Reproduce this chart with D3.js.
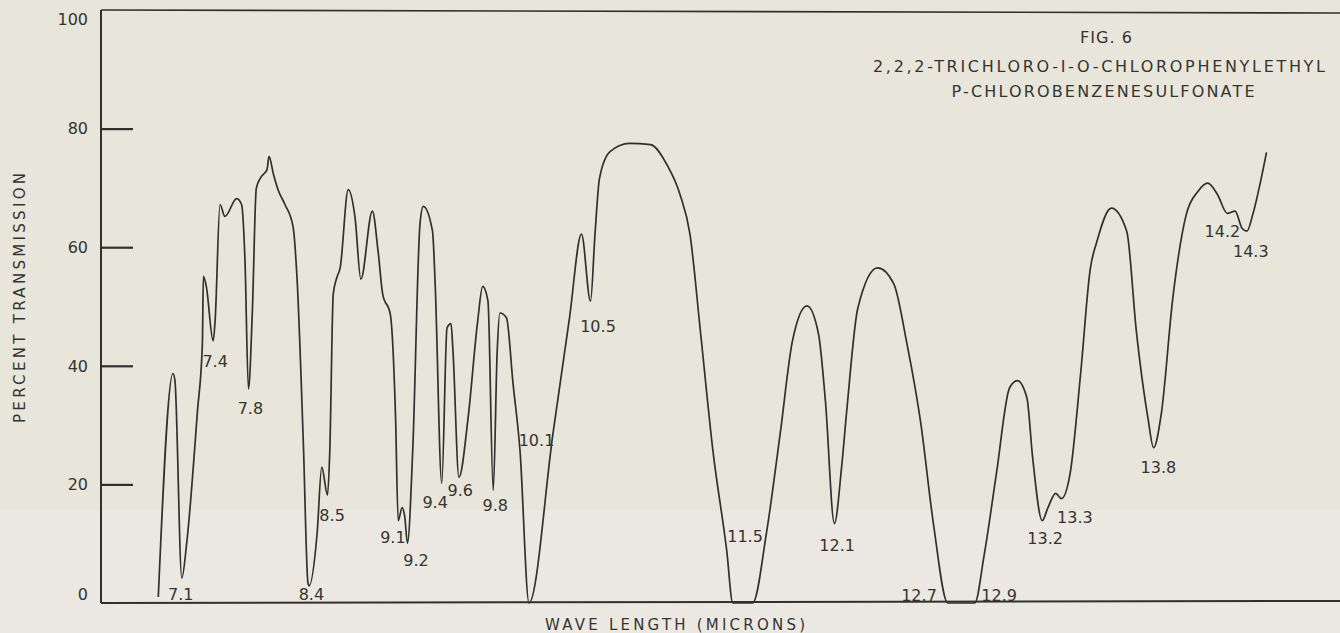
<!DOCTYPE html>
<html>
<head>
<meta charset="utf-8">
<script src="https://cdn.jsdelivr.net/npm/d3@7"></script>
<style>
  html, body { margin: 0; padding: 0; background: #e9e7dc; }
  svg { display: block; }
  text { font-family: 'DejaVu Sans', sans-serif; fill: #343431; }
</style>
</head>
<body>
<div class="chart"></div>
<script>
// wavelength (microns) and percent transmission
const wavelength = [
  6.86, 7.01, 7.03, 7.10, 7.15, 7.26, 7.31, 7.32, 7.35, 7.42, 7.44, 7.49, 7.54, 7.66, 7.71, 7.745, 7.78,
  7.82, 7.86, 7.90, 7.95, 7.97, 7.99, 8.03, 8.07, 8.13, 8.20, 8.235, 8.29, 8.33, 8.34, 8.41, 8.45, 8.50,
  8.52, 8.55, 8.58, 8.61, 8.68, 8.74, 8.79, 8.89, 8.94, 8.98, 9.04, 9.08, 9.10, 9.13, 9.15, 9.17, 9.21,
  9.265, 9.29, 9.36, 9.38, 9.43, 9.47, 9.50, 9.515, 9.56, 9.63, 9.70, 9.74, 9.78, 9.82, 9.85, 9.87, 9.92,
  9.97, 10.02, 10.08, 10.24, 10.35, 10.43, 10.49, 10.52, 10.55, 10.62, 10.75, 10.89, 11.0, 11.085, 11.15,
  11.22, 11.30, 11.39, 11.43, 11.56, 11.65, 11.74, 11.82, 11.915, 11.99, 12.03, 12.08, 12.12, 12.15, 12.21,
  12.32, 12.41, 12.48, 12.56, 12.63, 12.71, 12.86, 12.91, 12.98, 13.05, 13.09, 13.14, 13.17, 13.22, 13.25,
  13.29, 13.32, 13.365, 13.42, 13.47, 13.505, 13.58, 13.66, 13.71, 13.77, 13.80, 13.84, 13.90, 13.97,
  14.03, 14.08, 14.13, 14.18, 14.22, 14.255, 14.28, 14.31, 14.35, 14.38
];
const transmission = [
  1.0, 38.7, 37.5, 4.2, 10.1, 32.4, 43.7, 55.1, 53.4, 44.2, 47.6, 67.2, 65.2, 68.2, 67.2, 57.6, 36.1,
  49.2, 69.9, 71.6, 72.6, 73.1, 75.3, 72.3, 69.7, 67.2, 63.5, 54.8, 26.9, 3.4, 2.9, 11.8, 22.9, 18.2,
  25.7, 52.1, 54.8, 56.5, 69.7, 64.9, 54.6, 66.1, 59.3, 52.1, 48.7, 31.3, 13.9, 16.1, 14.5, 10.1, 25.7,
  63.9, 66.9, 62.7, 53.8, 20.2, 46.4, 47.1, 42.5, 21.2, 31.3, 47.1, 53.4, 50.9, 19.0, 42.5, 48.9, 48.1,
  37.0, 25.7, 0, 28.6, 48.1, 62.2, 50.9, 62.2, 71.6, 76.1, 77.5, 77.3, 73.9, 68.9, 62.2,
  45.4, 25.7, 8.9, 0, 0, 11.8, 28.6, 44.2, 50.1, 45.4, 34.1, 13.4, 22.9, 32.9, 49.7,
  56.5, 53.8, 44.2, 30.3, 13.4, 0, 0, 7.7, 21.8, 36.3, 37.5, 34.6, 24.5, 13.9, 16.1,
  18.5, 17.6, 21.8, 38.7, 56.3, 61.0, 66.6, 62.7, 45.9, 31.3, 26.2, 31.9, 51.4, 65.5,
  69.4, 70.8, 68.9, 65.7, 66.1, 63.2, 62.7, 65.5, 71.1, 76.0
];

// absorption band labels, anchored in data space
const bandLabels = ['7.1', '7.4', '7.8', '8.4', '8.5', '9.1', '9.2', '9.4', '9.6', '9.8', '10.1', '10.5',
  '11.5', '12.1', '12.7', '12.9', '13.2', '13.3', '13.8', '14.2', '14.3'];
const bandLabelWl = [7.09, 7.44, 7.80, 8.36, 8.54, 9.06, 9.235, 9.38, 9.57, 9.835, 10.13, 10.54,
  11.51, 12.095, 12.55, 12.995, 13.235, 13.39, 13.825, 14.155, 14.30];
const bandLabelT = [1.5, 40.8, 32.8, 1.5, 14.8, 11.1, 7.2, 17.0, 19.0, 16.5, 27.4, 46.7,
  11.3, 9.7, 1.3, 1.3, 10.9, 14.5, 22.9, 62.7, 59.3];

const yTicks = [0, 20, 40, 60, 80, 100];
const innerTicks = [20, 40, 60, 80];
const titleLines = ['FIG. 6', '2,2,2-TRICHLORO-I-O-CHLOROPHENYLETHYL', 'P-CHLOROBENZENESULFONATE'];

const width = 1340, height = 633;
const margin = { top: 10, right: 0, bottom: 30, left: 101 };

const svg = d3.select('.chart')
  .append('svg')
  .attr('width', width)
  .attr('height', height);

// paper
svg.append('rect').attr('width', width).attr('height', height).attr('fill', '#e8e6da');
svg.append('rect').attr('y', 510).attr('width', width).attr('height', height - 510).attr('fill', '#ebe8e1');

// prism instrument: dispersion is not linear in wavelength
const wlKnots = [6.5, 7, 8, 9, 10, 11, 12, 13, 14, 14.5];
const x = d3.scaleLinear()
  .domain(wlKnots)
  .range([123, 172, 270, 385, 517, 667, 820, 1000, 1192, 1290]);

const y = d3.scaleLinear()
  .domain([0, 100])
  .range([height - margin.bottom, margin.top]);

const ink = '#30302c';

// frame: left, top and bottom edges
svg.append('line')
  .attr('x1', margin.left).attr('x2', margin.left)
  .attr('y1', y(100)).attr('y2', y(0))
  .attr('stroke', ink).attr('stroke-width', 2);
svg.append('line')
  .attr('x1', margin.left).attr('x2', width)
  .attr('y1', y(100)).attr('y2', y(100) + 3)
  .attr('stroke', ink).attr('stroke-width', 1.6);
svg.append('line')
  .attr('x1', margin.left).attr('x2', width)
  .attr('y1', y(0)).attr('y2', y(0) - 2)
  .attr('stroke', ink).attr('stroke-width', 2);

// short inward tick marks
const tickAxis = d3.axisRight(y).tickValues(innerTicks).tickSize(32).tickFormat('');
const tickG = svg.append('g')
  .attr('transform', 'translate(' + margin.left + ',0)')
  .call(tickAxis);
tickG.select('.domain').remove();
tickG.selectAll('.tick line').attr('stroke', ink).attr('stroke-width', 2.2);

// y tick labels
svg.append('g')
  .selectAll('text')
  .data(yTicks)
  .join('text')
  .attr('x', 88)
  .attr('y', d => Math.min(Math.max(y(d), 19), 594))
  .attr('dy', '0.36em')
  .attr('text-anchor', 'end')
  .style('font-size', '16px')
  .text(d => d);

// axis titles
svg.append('text')
  .attr('transform', 'translate(25,298) rotate(-90)')
  .attr('text-anchor', 'middle')
  .attr('textLength', 250)
  .attr('lengthAdjust', 'spacing')
  .style('font-size', '15px')
  .text('PERCENT TRANSMISSION');

svg.append('text')
  .attr('x', 675)
  .attr('y', 630)
  .attr('text-anchor', 'middle')
  .attr('textLength', 260)
  .attr('lengthAdjust', 'spacing')
  .style('font-size', '15px')
  .text('WAVE LENGTH (MICRONS)');

// title block
const titleY = [43, 72, 97];
const titleW = [52, 452, 303];
const titleX = [1106, 1099, 1103];
svg.append('g')
  .selectAll('text')
  .data(titleLines)
  .join('text')
  .attr('x', (d, i) => titleX[i])
  .attr('y', (d, i) => titleY[i])
  .attr('text-anchor', 'middle')
  .attr('textLength', (d, i) => titleW[i])
  .attr('lengthAdjust', 'spacing')
  .style('font-size', '16px')
  .text(d => d);

// the trace
const dataset = wavelength.map((w, i) => ({ x: w, y: transmission[i] }));
const line = d3.line()
  .x(d => x(d.x))
  .y(d => y(d.y))
  .curve(d3.curveMonotoneX);

svg.append('path')
  .datum(dataset)
  .attr('fill', 'none')
  .attr('stroke', ink)
  .attr('stroke-width', 1.7)
  .attr('stroke-linejoin', 'round')
  .attr('d', line);

// band labels
svg.append('g')
  .selectAll('text')
  .data(bandLabels)
  .join('text')
  .attr('x', (d, i) => x(bandLabelWl[i]))
  .attr('y', (d, i) => y(bandLabelT[i]))
  .attr('dy', '0.36em')
  .attr('text-anchor', 'middle')
  .style('font-size', '16px')
  .text(d => d);
</script>
</body>
</html>
